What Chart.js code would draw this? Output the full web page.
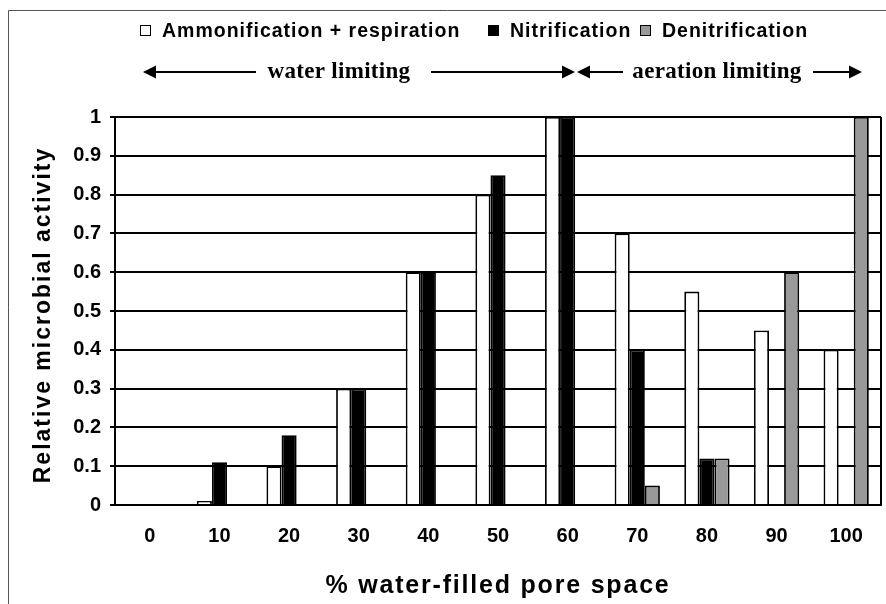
<!DOCTYPE html>
<html>
<head>
<meta charset="utf-8">
<script src="https://cdn.jsdelivr.net/npm/chart.js@4/dist/chart.umd.min.js"></script>
<style>
html,body{margin:0;padding:0;background:#fff;}
#wrap{width:886px;height:604px;position:relative;}
</style>
</head>
<body>
<div id="wrap"><canvas id="c" width="886" height="604"></canvas></div>
<script>
// ---- data ----
const categories = ['0','10','20','30','40','50','60','70','80','90','100'];
const ammonification = [0, 0.01, 0.10, 0.30, 0.60, 0.80, 1.00, 0.70, 0.55, 0.45, 0.40];
const nitrification  = [0, 0.11, 0.18, 0.30, 0.60, 0.85, 1.00, 0.40, 0.12, 0, 0];
const denitrification= [0, 0, 0, 0, 0, 0, 0, 0.05, 0.12, 0.60, 1.00];
const seriesNames = ['Ammonification + respiration', 'Nitrification', 'Denitrification'];
const seriesColors = ['#ffffff', '#000000', '#999999'];
const xTitle = '% water-filled pore space';
const yTitle = 'Relative microbial activity';
const zoneLabels = ['water limiting', 'aeration limiting'];

const SANS = '"Liberation Sans", Arial, sans-serif';
const SERIF = '"Liberation Serif", "Times New Roman", serif';

function arrow(ctx, x1, x2, y, dir) {
  const L = 13, H = 6.5;
  ctx.beginPath();
  if (dir < 0) { ctx.moveTo(x1 + L - 1, y); ctx.lineTo(x2, y); }
  else { ctx.moveTo(x1, y); ctx.lineTo(x2 - L + 1, y); }
  ctx.stroke();
  ctx.beginPath();
  if (dir < 0) { ctx.moveTo(x1, y); ctx.lineTo(x1 + L, y - H); ctx.lineTo(x1 + L, y + H); }
  else { ctx.moveTo(x2, y); ctx.lineTo(x2 - L, y - H); ctx.lineTo(x2 - L, y + H); }
  ctx.closePath();
  ctx.fill();
}

const deco = {
  id: 'deco',
  beforeDraw(chart) {
    const c = chart.ctx;
    c.save(); c.fillStyle = '#fff'; c.fillRect(0, 0, chart.width, chart.height); c.restore();
  },
  afterDatasetsDraw(chart) {
    const {ctx, chartArea: a} = chart;
    ctx.save();
    ctx.strokeStyle = '#000'; ctx.lineWidth = 2;
    ctx.beginPath();
    ctx.moveTo(a.left - 1, a.bottom); ctx.lineTo(a.right + 1, a.bottom);
    ctx.moveTo(a.right, a.top); ctx.lineTo(a.right, a.bottom);
    ctx.moveTo(a.left, a.top); ctx.lineTo(a.left, a.bottom);
    ctx.stroke();
    ctx.restore();
  },
  afterDraw(chart) {
    const {ctx, chartArea: a} = chart;
    ctx.save();
    // outer frame
    ctx.strokeStyle = '#555'; ctx.lineWidth = 1;
    ctx.beginPath();
    ctx.moveTo(8.5, 604); ctx.lineTo(8.5, 10.5); ctx.lineTo(886, 10.5);
    ctx.stroke();

    // legend
    const legendX = [140, 488, 640];
    ctx.font = 'bold 19.5px ' + SANS;
    ctx.letterSpacing = '1px';
    ctx.textBaseline = 'alphabetic';
    ctx.textAlign = 'left';
    chart.data.datasets.forEach((ds, i) => {
      const x = legendX[i];
      ctx.fillStyle = ds.backgroundColor;
      ctx.fillRect(x, 25.5, 10, 10);
      ctx.strokeStyle = '#000'; ctx.lineWidth = 1;
      ctx.strokeRect(x + 0.5, 25.5, 10, 10);
      ctx.fillStyle = '#000';
      ctx.fillText(ds.label, x + 22, 36.5);
    });

    // zone annotations
    ctx.letterSpacing = '0.3px';
    ctx.font = 'bold 23px ' + SERIF;
    ctx.textAlign = 'center';
    ctx.fillStyle = '#000';
    ctx.fillText(zoneLabels[0], 339, 78);
    ctx.fillText(zoneLabels[1], 717, 78);
    ctx.strokeStyle = '#000'; ctx.lineWidth = 2;
    arrow(ctx, 143, 256, 72, -1);
    arrow(ctx, 431, 575, 72, 1);
    arrow(ctx, 577, 623, 72, -1);
    arrow(ctx, 813, 862, 72, 1);

    // axis titles
    ctx.font = 'bold 25px ' + SANS;
    ctx.letterSpacing = '1.8px';
    ctx.textAlign = 'center';
    ctx.fillText(xTitle, (a.left + a.right) / 2, 593);

    ctx.save();
    ctx.translate(50, 315);
    ctx.rotate(-Math.PI / 2);
    ctx.font = 'bold 23px ' + SANS;
    ctx.letterSpacing = '2px';
    ctx.fillText(yTitle, 0, 0);
    ctx.restore();

    ctx.restore();
  }
};

const chart = new Chart(document.getElementById('c'), {
  type: 'bar',
  data: {
    labels: categories,
    datasets: [
      {label: seriesNames[0], data: ammonification, backgroundColor: seriesColors[0]},
      {label: seriesNames[1], data: nitrification, backgroundColor: seriesColors[1]},
      {label: seriesNames[2], data: denitrification, backgroundColor: seriesColors[2]}
    ].map(d => Object.assign(d, {borderColor: '#000', borderWidth: 1.8, categoryPercentage: 0.65, barPercentage: 1.0}))
  },
  options: {
    responsive: false,
    animation: false,
    devicePixelRatio: 1,
    layout: {padding: {top: 117, right: 5, bottom: 0, left: 0}},
    plugins: {legend: {display: false}, tooltip: {enabled: false}, title: {display: false}},
    scales: {
      x: {
        grid: {display: false, drawTicks: false},
        border: {display: true, color: '#000', width: 2},
        ticks: {color: '#000', font: {family: SANS, size: 20, weight: 'bold'}, padding: 19, maxRotation: 0, autoSkip: false},
        afterFit: s => { s.height = 99; }
      },
      y: {
        min: 0, max: 1,
        grid: {color: '#000', lineWidth: 2, drawTicks: true, tickLength: 5},
        border: {display: true, color: '#000', width: 2},
        ticks: {stepSize: 0.1, color: '#000', font: {family: SANS, size: 20, weight: 'bold'}, padding: 9,
                callback: v => String(Math.round(v * 10) / 10)},
        afterFit: s => { s.width = 115; }
      }
    }
  },
  plugins: [deco]
});
</script>
</body>
</html>
